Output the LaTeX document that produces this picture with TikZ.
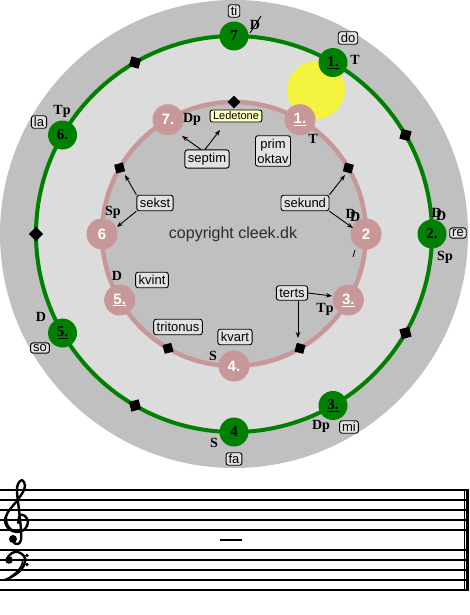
\documentclass[tikz,border=0pt]{standalone}
\usepackage{fontspec}
\setmainfont{Liberation Serif}
\setsansfont{Liberation Sans}
\usetikzlibrary{arrows.meta}
\definecolor{outergray}{RGB}{192,192,192}
\definecolor{innerlight}{RGB}{220,220,220}
\definecolor{grn}{RGB}{0,128,0}
\definecolor{pinkc}{RGB}{200,152,152}
\definecolor{sunc}{RGB}{244,244,64}
\definecolor{boxfill}{RGB}{226,226,226}
\definecolor{ledfill}{RGB}{255,255,196}
\definecolor{copyc}{RGB}{44,44,44}
\newcommand\ddsym{\rlap{D}\kern4.5pt\raisebox{-3pt}{D}}
\tikzset{
  gnode/.style={circle, fill=grn, minimum size=29pt, inner sep=0pt, font=\fontsize{15}{15}\selectfont\bfseries},
  pnode/.style={circle, fill=pinkc, minimum size=31pt, inner sep=0pt, text=white, font=\sffamily\bfseries\fontsize{15}{15}\selectfont},
  fn/.style={font=\fontsize{14}{14}\selectfont\bfseries, inner sep=0pt},
  lbox/.style={draw, rounded corners=2.5pt, fill=boxfill, font=\sffamily\fontsize{13}{15}\selectfont, inner xsep=3pt, inner ysep=3pt, line width=0.9pt, align=center},
  sbox/.style={lbox, inner xsep=2.5pt, inner ysep=1.5pt},
  gdia/.style={fill=black, minimum size=10pt, inner sep=0pt, rectangle},
  pdia/.style={fill=black, minimum size=9pt, inner sep=0pt, rectangle},
  arr/.style={-{Stealth[length=6pt,width=4.5pt]}, line width=0.9pt},
  staffline/.style={line width=2pt},
  clefline/.style={line width=2.4pt, line cap=round, line join=round},
}
\begin{document}
\begin{tikzpicture}[x=1pt,y=-1pt]
\useasboundingbox (0,0) rectangle (469,615);
\fill[white] (0,0) rectangle (469,615);
\coordinate (C) at (234,234);
\fill[outergray] (C) circle (234);
\fill[innerlight] (C) circle (199);
\fill[outergray] (C) circle (132);
\fill[sunc] (316,90) circle (29);
\draw[grn, line width=4pt] (C) circle (198);
\draw[pinkc, line width=4.5pt] (C) circle (132);
\begin{scope}[shift={(234,234)}, y=1pt]
  % green diamonds
  \foreach \a in {30,-30,-120,180,120} \node[gdia, rotate=\a+45] at (\a:198) {};
  % pink diamonds
  \foreach \a in {90,30,-60,-120,150} \node[pdia, rotate=\a+45] at (\a:132) {};
  % green nodes
  \node[gnode] (g7) at (90:198) {7};
  \node[gnode] (g1) at (60:198) {\underline{1.}};
  \node[gnode] (g2) at (0:198) {2.};
  \node[gnode] (g3) at (-60:198) {\underline{3.}};
  \node[gnode] (g4) at (-90:198) {4};
  \node[gnode] (g5) at (210:198) {\underline{5.}};
  \node[gnode] (g6) at (150:198) {6.};
  % pink nodes
  \node[pnode] (p1) at (60:132) {\underline{1.}};
  \node[pnode] (p2) at (0:132) {2};
  \node[pnode] (p3) at (-30:132) {\underline{3.}};
  \node[pnode] (p4) at (-90:132) {4.};
  \node[pnode] (p5) at (210:132) {\underline{5.}};
  \node[pnode] (p6) at (180:132) {6};
  \node[pnode] (p7) at (120:132) {7.};
\end{scope}
% function labels, green circle
\node[fn] (fg7) at (255,25) {D};
\draw[line width=0.9pt] (fg7.center) ++(-5,8) -- ++(11,-17);
\node[fn] (fg1) at (355,60) {T};
\node[fn] (fg2a) at (439,214) {\ddsym};
\node[fn] (fg2b) at (445,257) {Sp};
\node[fn] (fg3) at (321,426) {Dp};
\node[fn] (fg4) at (214,443) {S};
\node[fn] (fg5) at (41,317) {D};
\node[fn] (fg6) at (62,111) {Tp};
% function labels, pink circle
\node[fn] (fp1) at (313,139) {T};
\node[fn] (fp7) at (192,119) {Dp};
\node[fn] (fp6) at (113,212) {Sp};
\node[fn] (fp5) at (117,276) {D};
\node[fn] (fp4) at (213,356) {S};
\node[fn] (fp3) at (325,309) {Tp};
\node[fn] (fp2) at (353,215) {\ddsym};
\coordinate (slA) at (353,257);
\coordinate (slB) at (355,250);
\draw[line width=0.8pt] (slA) -- (slB);
% solfege boxes
\node[sbox] (ti) at (234,11) {ti};
\node[sbox] (do) at (348,38) {do};
\node[sbox] (re) at (458,233) {re};
\node[sbox] (mi) at (349,427) {mi};
\node[sbox] (fa) at (234,459) {fa};
\node[sbox] (so) at (40,348) {so};
\node[sbox] (la) at (39,122) {la};
% interval boxes
\node[lbox, fill=ledfill, font=\sffamily\fontsize{11}{12}\selectfont, inner ysep=2pt, inner xsep=3pt] (led) at (236,116) {Ledetone};
\node[lbox] (septim) at (207,159) {septim};
\node[lbox, inner xsep=2pt] (prim) at (273,151) {prim\\oktav};
\node[lbox] (sekund) at (305,203) {sekund};
\node[lbox] (sekst) at (155,203) {sekst};
\node[lbox] (kvint) at (152,280) {kvint};
\node[lbox] (tritonus) at (178,327) {tritonus};
\node[lbox] (kvart) at (235,337) {kvart};
\node[lbox] (terts) at (292,293) {terts};
\node[font=\sffamily\fontsize{16}{18}\selectfont, text=copyc] (copy) at (233,234) {copyright cleek.dk};
% arrows
\coordinate (sepA) at (182,136);
\coordinate (sepB) at (220,130);
\coordinate (sekstA) at (125,175);
\coordinate (sekstB) at (117,227);
\coordinate (sekundA) at (345,175);
\coordinate (sekundB) at (353,228);
\coordinate (tertsA) at (332,296);
\coordinate (tertsB) at (298,338);
\draw[arr] ([xshift=-6pt]septim.north) -- (sepA);
\draw[arr] ([xshift=-2pt]septim.north) -- (sepB);
\draw[arr] (sekst.north west) -- (sekstA);
\draw[arr] (sekst.south west) -- (sekstB);
\draw[arr] (sekund.north east) -- (sekundA);
\draw[arr] (sekund.south east) -- (sekundB);
\draw[arr] (terts.east) -- (tertsA);
\draw[arr] ([xshift=6pt]terts.south) -- (tertsB);
% staff
\foreach \y in {490,500,510,520,530,550,560,570,580,590} \draw[staffline] (0,\y) -- (467,\y);
\draw[line width=1pt] (464.5,489) -- (464.5,591);
\draw[line width=2.5pt] (467.7,489) -- (467.7,591);
\draw[line width=2pt] (220,540) -- (242,540);
% treble clef
\draw[clefline] plot[smooth, tension=0.55] coordinates {(18,523) (20,515) (25,516) (28,522) (25,529) (17,532) (9,529) (5,521) (8,512) (16,502) (23,492) (25,485) (22,480) (18,484) (17,492) (19,510) (21,530) (21,540) (18,544) (14,543)};
\draw[line width=1.5pt] (7,514) .. controls (5,521) and (8,530) .. (16,531);
\fill (13,539) circle (4);
% bass clef
\fill (9,560) circle (3.8);
\draw[clefline] plot[smooth, tension=0.6] coordinates {(8,557) (12,553) (18,552) (24,556) (25,562) (21,570) (13,576) (5,580)};
\draw[line width=1.6pt] (23,559) .. controls (23,566) and (18,572) .. (10,577);
\fill (27,555.5) circle (1.9);
\fill (27,564.5) circle (1.9);
\end{tikzpicture}
\end{document}
